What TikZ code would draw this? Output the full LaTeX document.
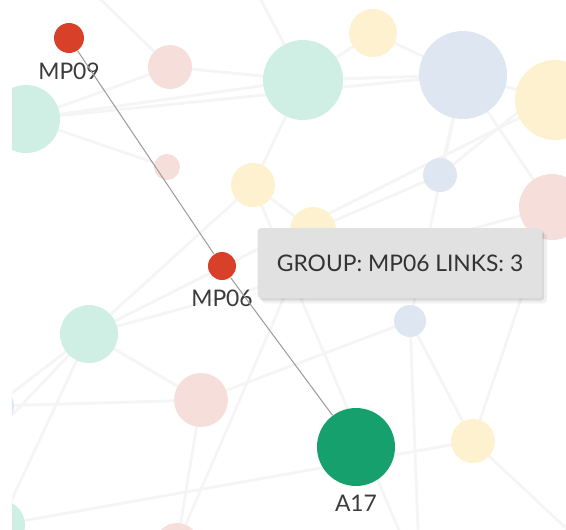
\documentclass[tikz,border=0pt]{standalone}
\usepackage{fontspec}
\setmainfont{Lato}
\usepackage{xcolor}
\usepackage{tikz}
\usetikzlibrary{positioning, shadows}

\definecolor{hotred}{HTML}{D8402A}
\definecolor{deepgreen}{HTML}{15A06E}
\definecolor{paleteal}{HTML}{CFEEE4}
\definecolor{palepink}{HTML}{F6DEDB}
\definecolor{paleyellow}{HTML}{FDF1CF}
\definecolor{paleblue}{HTML}{DEE6F2}
\definecolor{linkgrey}{HTML}{A09C9C}
\definecolor{labelgrey}{HTML}{3C3A3C}
\definecolor{tipgrey}{HTML}{E1E1E1}

% faded groups: name/x/y/colour/diameter
\def\fadedgroups{pk1/170/67/palepink/0.88, tl1/26/119/paleteal/1.36,
    tl2/303/80/paleteal/1.6, yl1/373/33/paleyellow/0.96, bl1/463/75/paleblue/1.76,
    yl2/555/100/paleyellow/1.6, bl2/440/175/paleblue/0.68, pk2/552/207/palepink/1.32,
    yl3/313/230/paleyellow/0.92, pk3/167/167/palepink/0.52, yl4/253/185/paleyellow/0.88,
    tl3/89/334/paleteal/1.16, pk4/201/400/palepink/1.08, bl3/-5/406/paleblue/0.76,
    tl4/0/525/paleteal/1.0, pk5/177/545/palepink/0.88, bl4/410/321/paleblue/0.64,
    yl5/473/441/paleyellow/0.88}

\begin{document}
\begin{tikzpicture}[
    x=0.02cm, y=-0.02cm,
    bubble/.style={circle, inner sep=0pt, draw=none},
    faint/.style={black!4, line width=1.6pt},
    link/.style={linkgrey, line width=0.6pt},
    tag/.style={font=\fontsize{13}{15}\selectfont, text=labelgrey, inner sep=1pt},
    tip/.style={rectangle, rounded corners=2pt, fill=tipgrey, minimum width=5.7cm, minimum height=1.4cm, font=\fontsize{13}{15}\selectfont, text=black!80,
        drop shadow={fill=black, opacity=0.06, shadow xshift=2.5pt, shadow yshift=-3pt},
        drop shadow={fill=black, opacity=0.10, shadow xshift=1pt, shadow yshift=-1.5pt}}
]
\useasboundingbox (0,0) rectangle (566,529);
\begin{scope}
\clip (12,0) rectangle (566,529);

\foreach \n/\x/\y/\c/\d in \fadedgroups
    \coordinate (\n) at (\x,\y);
\coordinate (e1) at (620,30);
\coordinate (e2) at (620,300);
\coordinate (e3) at (600,560);
\coordinate (e4) at (420,580);
\coordinate (e5) at (-40,250);
\coordinate (e6) at (240,-40);
\coordinate (e7) at (60,-40);
\coordinate (e8) at (-40,470);

% Background: faint links
\foreach \a/\b in {tl1/pk1, tl1/tl2, pk1/tl2, tl2/bl1, tl2/yl1, yl1/bl1, bl1/yl2,
    bl1/bl2, bl1/pk2, tl2/yl4, pk3/tl1, yl4/yl3, tl3/pk4, tl3/yl4, tl3/bl3,
    tl3/tl4, pk4/pk5, pk4/bl4, bl4/yl5, yl5/pk2, bl2/yl3, bl4/bl1, tl3/pk2,
    yl3/pk5, bl2/e1, pk2/e2, yl5/e3, bl4/e4, tl1/e5, tl2/e6, pk1/e7, tl3/e8,
    yl2/e2, yl5/tl4, bl1/tl1, bl3/pk4, tl3/yl2, yl4/e4}
    \draw [faint] (\a) -- (\b);

% Background: faded groups on top of the links
\foreach \n/\x/\y/\c/\d in \fadedgroups
    \node [bubble, fill=\c, minimum size=\d cm] (\n) at (\x,\y) {};
\end{scope}

% Highlighted groups
\node [bubble, fill=hotred, minimum size=0.6cm] (mp09) at (69,38) {};
\node [bubble, fill=hotred, minimum size=0.56cm] (mp06) at (222,266) {};
\node [bubble, fill=deepgreen, minimum size=1.56cm] (a17) at (356,447) {};

\node [tag, below=0.14cm of mp09] (mp09lab) {MP09};
\node [tag, below=0.14cm of mp06] (mp06lab) {MP06};
\node [tag, below=0.14cm of a17] (a17lab) {A17};

\draw [link] (mp09) -- (mp06);
\draw [link] (mp06) -- (a17);

% Hover box
\node [tip] (hover) at (400,263) {GROUP: MP06 LINKS: 3};
\end{tikzpicture}
\end{document}
